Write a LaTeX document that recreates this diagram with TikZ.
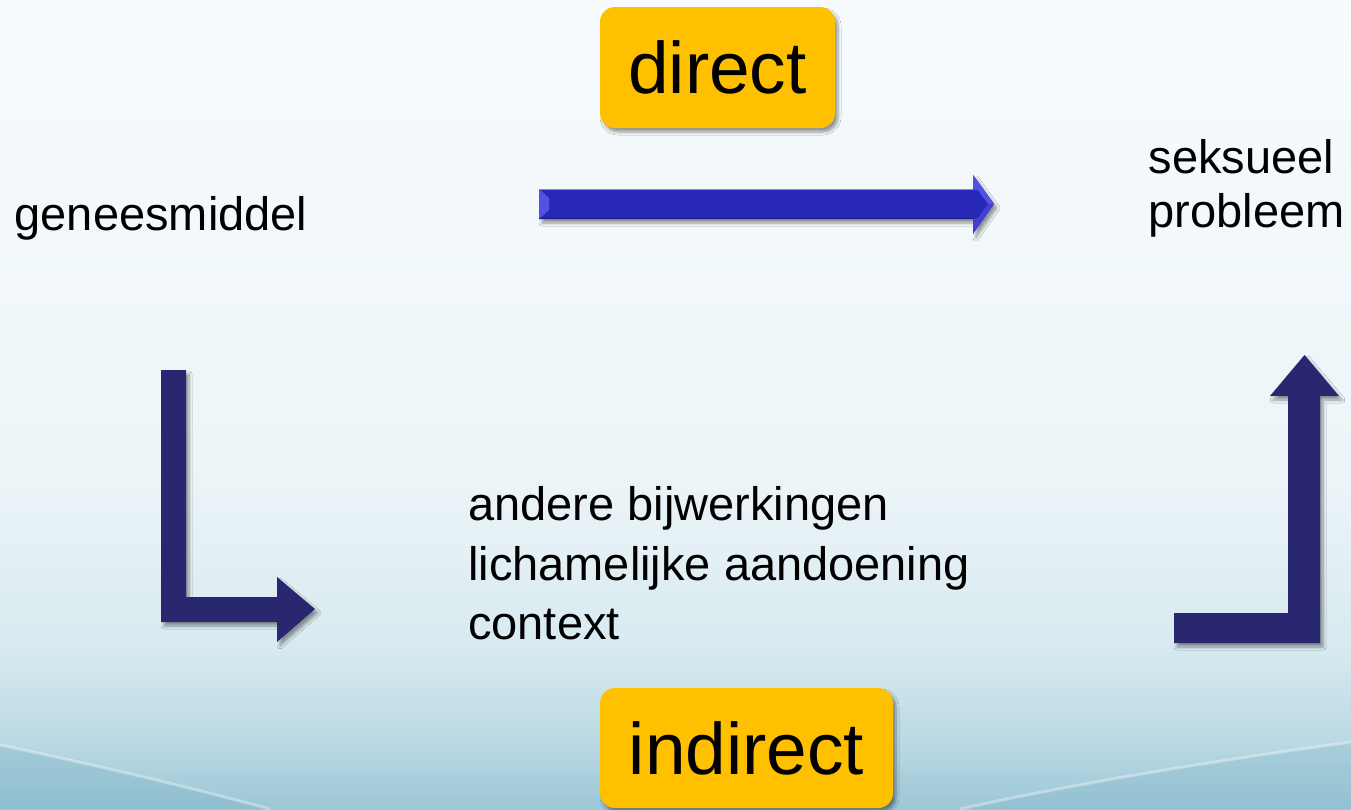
\documentclass[tikz,border=0pt]{standalone}
\usepackage{fontspec}
\setmainfont{Liberation Sans}
\usetikzlibrary{shadows.blur}

\definecolor{bgA}{HTML}{F7FBFD}
\definecolor{bgB}{HTML}{EDF5F8}
\definecolor{bgC}{HTML}{D8EAF0}
\definecolor{bgD}{HTML}{BCDAE4}
\definecolor{bgE}{HTML}{9CC7D6}
\definecolor{bgdeep}{HTML}{7AB1C5}
\definecolor{navyarrow}{HTML}{28276F}
\definecolor{bluearrow}{HTML}{2828B8}
\definecolor{bluebevel}{HTML}{5252E2}
\definecolor{boxyellow}{HTML}{FFC000}

% slide background: pale at the top, turning light teal towards the bottom
% (the filled area spans 25bp..75bp of the shading)
\pgfdeclareverticalshading{slidebg}{100bp}{%
  color(0bp)=(bgE); color(25bp)=(bgE); color(29.5bp)=(bgD); color(35bp)=(bgC);
  color(46bp)=(bgB); color(75bp)=(bgA); color(100bp)=(bgA)}

\tikzset{
  softshadow/.style={blur shadow={shadow xshift=3pt, shadow yshift=-4pt,
      shadow opacity=40, shadow blur radius=3pt, shadow blur steps=6}},
  labelbox/.style={fill=boxyellow, rounded corners=15pt, softshadow,
      inner sep=0pt, font=\fontsize{73}{80}\selectfont},
  plaintext/.style={anchor=north west, inner sep=0pt, align=left},
  navyshape/.style={fill=navyarrow, softshadow},
}

\begin{document}
\begin{tikzpicture}[x=1pt, y=-1pt]
\useasboundingbox (0,0) rectangle (1351,809);

% background and the soft waves along the bottom edge
\shade[shading=slidebg] (0,0) rectangle (1351,809);
\fill[bgdeep, opacity=.35] (0,745) .. controls (110,768) and (200,790) .. (270,809) -- (0,809) -- cycle;
\draw[white, opacity=.35, line width=3pt] (0,745) .. controls (110,768) and (200,790) .. (270,809);
\fill[bgdeep, opacity=.25] (960,809) .. controls (1100,778) and (1250,756) .. (1351,742) -- (1351,809) -- cycle;
\draw[white, opacity=.35, line width=3pt] (960,809) .. controls (1100,778) and (1250,756) .. (1351,742);

% yellow labels
\node[labelbox, minimum width=235pt, minimum height=121pt] (direct) at (717.5,67.5) {direct};
\node[labelbox, minimum width=293pt, minimum height=120pt] (indirect) at (746.5,748) {indirect};

% texts
\node[plaintext, font=\fontsize{47}{54}\selectfont] (drug) at (14.5,196.3) {geneesmiddel};
\node[plaintext, font=\fontsize{47}{54}\selectfont] (problem) at (1148.5,139.5) {seksueel\\probleem};
\node[plaintext, font=\fontsize{47}{59.5}\selectfont] (factors) at (468,486.3)
  {andere bijwerkingen\\lichamelijke aandoening\\context};

% direct route: bevelled blue arrow
\fill[bluearrow, softshadow] (539,189) -- (973,189) -- (973,175) -- (994,204)
  -- (973,234) -- (973,219) -- (539,219) -- cycle;
\fill[bluebevel] (539,189) -- (549,198) -- (549,210) -- (539,219) -- cycle;
\fill[bluebevel] (973,175) -- (994,204) -- (988,204) -- (978,190) -- (973,190) -- cycle;
\fill[bluebevel, opacity=.6] (973,234) -- (994,204) -- (988,204) -- (978,218) -- (973,219) -- cycle;
\draw[bluebevel!70!white, line width=.8pt] (539,189.5) -- (973,189.5);
\draw[bluearrow!70!black, line width=1pt] (539,218.5) -- (973,218.5);

% indirect route: down and to the right
\fill[navyshape] (161,370) -- (186,370) -- (186,597) -- (277,597) -- (277,577)
  -- (315,609) -- (277,642) -- (277,622) -- (161,622) -- cycle;

% indirect route: to the right and up
\fill[navyshape] (1174,613) -- (1288,613) -- (1288,396) -- (1270,396) -- (1304.5,355)
  -- (1339,396) -- (1320,396) -- (1320,643) -- (1174,643) -- cycle;
\end{tikzpicture}
\end{document}
